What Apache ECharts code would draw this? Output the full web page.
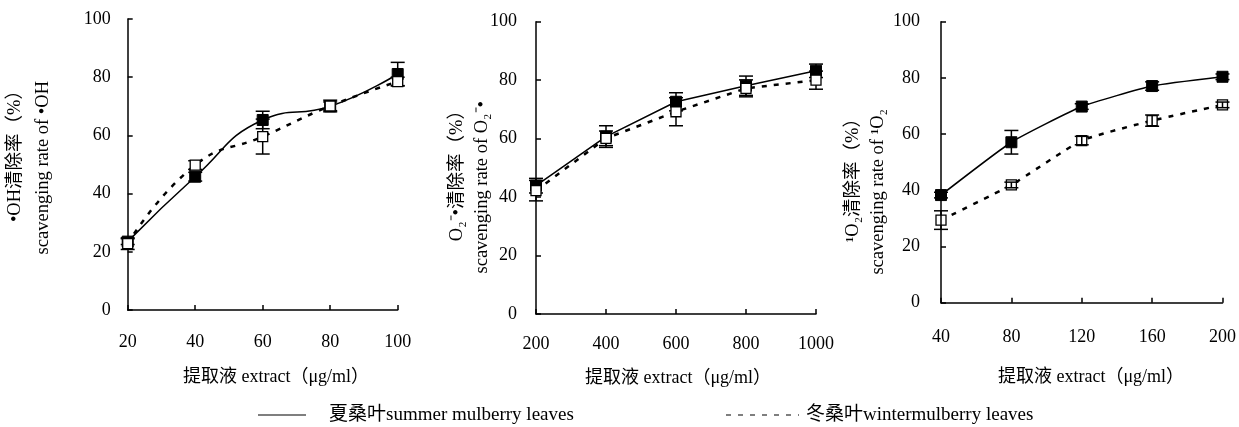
<!DOCTYPE html>
<html><head><meta charset="utf-8">
<script src="https://cdn.jsdelivr.net/npm/echarts@6/dist/echarts.min.js"></script>
<style>html,body{margin:0;padding:0;background:#fff}#c{width:1239px;height:427px}</style>
</head><body><div id="c"></div>
<script>
// ---- data ----
const ohX = [20, 40, 60, 80, 100];
const ohSummer = [23.5, 45.8, 65.3, 70.0, 81.1];
const ohWinter = [22.8, 49.8, 59.6, 70.1, 78.5];
const ohSummerErr = [1, 1.5, 3, 1.5, 4];
const ohWinterErr = [2, 1.5, 6, 2, 1.5];

const o2X = [200, 400, 600, 800, 1000];
const o2Summer = [43.9, 60.7, 72.6, 78.1, 83.2];
const o2Winter = [42.2, 60.1, 69.2, 77.2, 80.0];
const o2SummerErr = [2.5, 3.7, 3.1, 3.3, 2.3];
const o2WinterErr = [3.5, 2.5, 4.8, 2.9, 3.1];

const sX = [40, 80, 120, 160, 200];
const sSummer = [38.3, 57.1, 69.8, 77.1, 80.4];
const sWinter = [29.4, 41.9, 57.7, 64.8, 70.4];
const sSummerErr = [1, 4.2, 1, 1.5, 1];
const sWinterErr = [3.3, 1, 1.5, 2, 1];

const yTicks = {min: 0, max: 100, interval: 20};
const xTitle = '提取液 extract（μg/ml）';
const yTitles = [
  ['•OH清除率（%）', 'scavenging rate of •OH'],
  ['O₂⁻•清除率（%）', 'scavenging rate of O₂⁻•'],
  ['¹O₂清除率（%）', 'scavenging rate of ¹O₂']
];
const legendNames = ['夏桑叶summer mulberry leaves', '冬桑叶wintermulberry leaves'];

// ---- chart ----
const FONT = '"Liberation Serif", "Noto Sans CJK SC", serif';
const chart = echarts.init(document.getElementById('c'));

function xAxis(gi, min, max, interval, margin) {
  return {type: 'value', gridIndex: gi, min, max, interval,
    axisLine: {show: true, onZero: false, lineStyle: {color: '#000', width: 1.5}},
    axisTick: {show: true, inside: true, length: 5, lineStyle: {color: '#000', width: 1.5}},
    axisLabel: {color: '#000', fontFamily: FONT, fontSize: 18, margin, formatter: v => String(v)},
    splitLine: {show: false}};
}
function yAxis(gi, margin) {
  return {type: 'value', gridIndex: gi, min: yTicks.min, max: yTicks.max, interval: yTicks.interval,
    axisLine: {show: true, onZero: false, lineStyle: {color: '#000', width: 1.5}},
    axisTick: {show: true, inside: true, length: 5, lineStyle: {color: '#000', width: 1.5}},
    axisLabel: {color: '#000', fontFamily: FONT, fontSize: 18, margin, formatter: v => String(v)},
    splitLine: {show: false}};
}
function pairs(xs, ys) { return xs.map((x, i) => [x, ys[i]]); }
function errData(xs, ys, es) { return xs.map((x, i) => [x, ys[i] - es[i], ys[i] + es[i]]); }

function lineSeries(gi, xs, ys, summer, smooth) {
  return {type: 'line', xAxisIndex: gi, yAxisIndex: gi, data: pairs(xs, ys),
    smooth: smooth, symbol: 'rect', symbolSize: summer ? 11 : 10,
    lineStyle: summer ? {color: '#000', width: 1.5} : {color: '#000', width: 2.5, type: [5, 7]},
    itemStyle: summer ? {color: '#000', borderColor: '#000', borderWidth: 1}
                      : {color: '#fff', borderColor: '#000', borderWidth: 1.3},
    z: summer ? 3 : 4, animation: false};
}
function errSeries(gi, xs, ys, es, z) {
  return {type: 'custom', xAxisIndex: gi, yAxisIndex: gi, data: errData(xs, ys, es), z: z, animation: false,
    renderItem: function (params, api) {
      const lo = api.coord([api.value(0), api.value(1)]);
      const hi = api.coord([api.value(0), api.value(2)]);
      const w = 7;
      const st = {stroke: '#000', lineWidth: 1.5};
      return {type: 'group', children: [
        {type: 'line', shape: {x1: lo[0], y1: lo[1], x2: hi[0], y2: hi[1]}, style: st},
        {type: 'line', shape: {x1: lo[0] - w, y1: lo[1], x2: lo[0] + w, y2: lo[1]}, style: st},
        {type: 'line', shape: {x1: hi[0] - w, y1: hi[1], x2: hi[0] + w, y2: hi[1]}, style: st}
      ]};
    }};
}

function yTitleGraphics(x1, x2, yEnd, lines) {
  return [
    {type: 'text', x: x1, y: yEnd, rotation: Math.PI / 2,
      style: {text: lines[0], font: '18.5px ' + FONT, fill: '#000', align: 'right', verticalAlign: 'middle'}},
    {type: 'text', x: x2, y: yEnd, rotation: Math.PI / 2,
      style: {text: lines[1], font: '18.5px ' + FONT, fill: '#000', align: 'right', verticalAlign: 'middle'}}
  ];
}
function xTitleGraphic(cx, cy) {
  return {type: 'text', x: cx, y: cy,
    style: {text: xTitle, font: '18px ' + FONT, fill: '#000', align: 'center', verticalAlign: 'middle'}};
}

const option = {
  backgroundColor: '#fff',
  animation: false,
  grid: [
    {left: 127.7, top: 19, width: 270, height: 291},
    {left: 536, top: 21.7, width: 280, height: 292.3},
    {left: 941, top: 21.7, width: 284, height: 281}
  ],
  xAxis: [xAxis(0, 20, 100, 20, 23), xAxis(1, 200, 1000, 200, 21), xAxis(2, 40, 200, 40, 26)],
  yAxis: [yAxis(0, 17), yAxis(1, 19), yAxis(2, 21)],
  series: [
    errSeries(0, ohX, ohSummer, ohSummerErr, 2),
    errSeries(0, ohX, ohWinter, ohWinterErr, 2),
    lineSeries(0, ohX, ohSummer, true, 0.5),
    lineSeries(0, ohX, ohWinter, false, 0.5),
    errSeries(1, o2X, o2Summer, o2SummerErr, 2),
    errSeries(1, o2X, o2Winter, o2WinterErr, 2),
    lineSeries(1, o2X, o2Summer, true, false),
    lineSeries(1, o2X, o2Winter, false, false),
    errSeries(2, sX, sSummer, sSummerErr, 2),
    errSeries(2, sX, sWinter, sWinterErr, 5),
    lineSeries(2, sX, sSummer, true, 0.15),
    lineSeries(2, sX, sWinter, false, 0.15)
  ],
  graphic: [].concat(
    yTitleGraphics(15, 43, 81, yTitles[0]),
    yTitleGraphics(457, 482, 101, yTitles[1]),
    yTitleGraphics(853, 878, 109, yTitles[2]),
    [xTitleGraphic(276, 377), xTitleGraphic(678, 378), xTitleGraphic(1091, 377),
     {type: 'line', shape: {x1: 258, y1: 415, x2: 306, y2: 415}, style: {stroke: '#000', lineWidth: 1.2}},
     {type: 'text', x: 329, y: 415, style: {text: legendNames[0], font: '19px ' + FONT, fill: '#000', align: 'left', verticalAlign: 'middle'}},
     {type: 'line', shape: {x1: 726, y1: 415, x2: 799, y2: 415}, style: {stroke: '#000', lineWidth: 1.2, lineDash: [5, 7]}},
     {type: 'text', x: 806, y: 415, style: {text: legendNames[1], font: '19px ' + FONT, fill: '#000', align: 'left', verticalAlign: 'middle'}}]
  )
};
chart.setOption(option);
</script>
</body></html>
